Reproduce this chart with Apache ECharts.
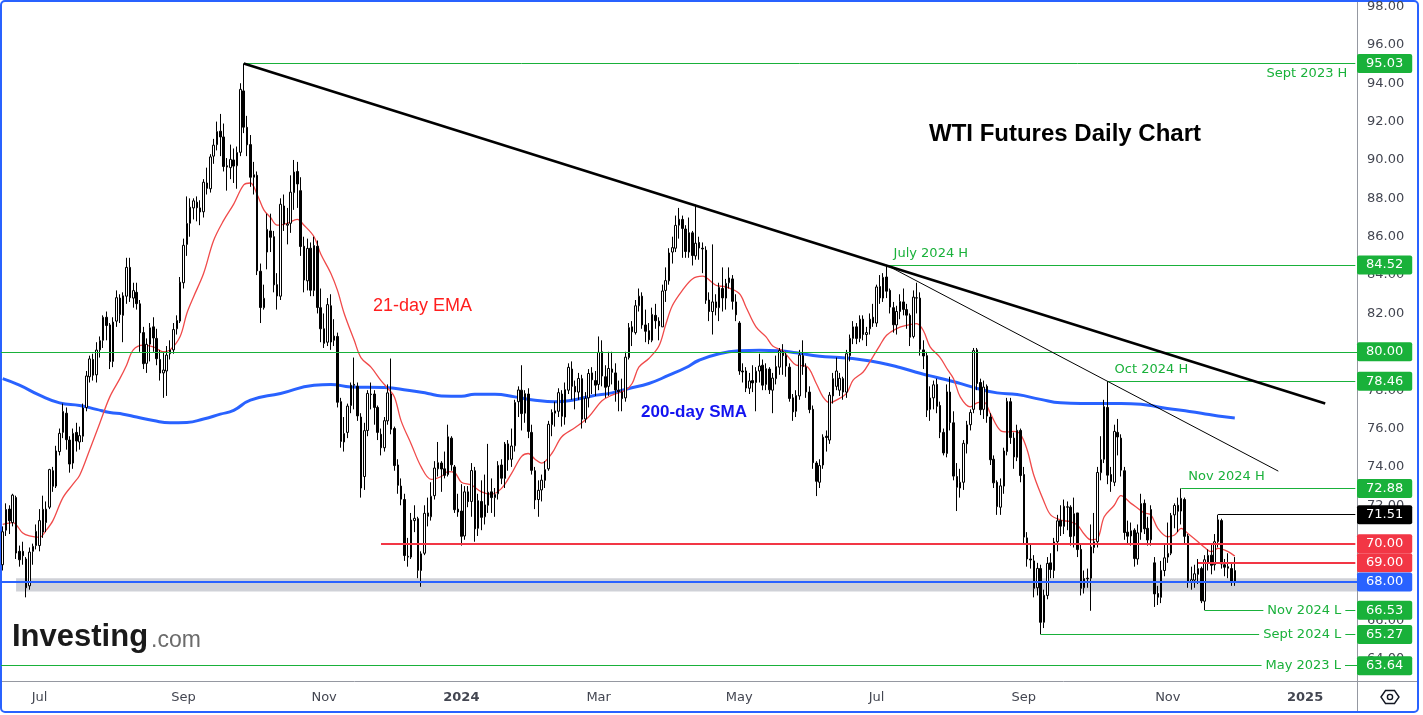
<!DOCTYPE html>
<html><head><meta charset="utf-8">
<script src="https://cdn.jsdelivr.net/npm/echarts@6/dist/echarts.min.js"></script>
<style>html,body{margin:0;padding:0;background:#fff;}#c{width:1423px;height:715px;}</style>
</head><body><div id="c"></div>
<script>
// [date, open, close, low, high]
const jun2023 = [
['2023-06-15',68.9,70.62,68.6,70.9],['2023-06-16',70.7,71.78,70.4,72.1],['2023-06-20',71.8,71.19,70.5,72.0],
['2023-06-21',71.1,72.53,70.9,72.6],['2023-06-22',72.4,69.51,69.2,72.5],['2023-06-23',69.6,69.16,68.8,69.9],
['2023-06-26',69.6,69.37,68.9,70.1],['2023-06-27',69.2,67.70,67.2,69.3],['2023-06-28',67.8,69.56,67.6,69.8],
['2023-06-29',69.6,69.86,68.9,70.0],['2023-06-30',69.9,70.64,69.7,71.0]];
const jul2023 = [
['2023-07-03',69.9,71.20,69.6,71.8],['2023-07-05',70.6,71.79,70.3,72.5],['2023-07-06',71.1,71.80,70.6,72.2],
['2023-07-07',71.9,73.86,71.8,73.9],['2023-07-10',73.8,72.99,72.7,74.0],['2023-07-11',73.0,74.83,72.9,75.1],
['2023-07-12',74.8,75.75,74.6,76.0],['2023-07-13',75.8,76.89,75.5,77.3],['2023-07-14',76.8,75.42,74.9,77.1],
['2023-07-17',75.4,74.15,73.7,75.6],['2023-07-18',74.2,75.75,73.9,76.0],['2023-07-19',75.8,75.35,74.8,76.3],
['2023-07-20',75.3,75.63,74.9,76.1],['2023-07-21',75.6,77.07,75.3,77.3],['2023-07-24',77.1,78.74,76.9,79.0],
['2023-07-25',78.7,79.63,78.4,79.8],['2023-07-26',79.6,78.78,78.5,79.9],['2023-07-27',78.8,80.09,78.4,80.5],
['2023-07-28',80.1,80.58,79.7,80.8],['2023-07-31',80.6,81.80,80.2,81.9]];
const aug2023 = [
['2023-08-01',81.8,81.37,80.6,82.1],['2023-08-02',81.4,79.49,79.1,81.5],['2023-08-03',79.5,81.55,79.2,81.8],
['2023-08-04',81.6,82.82,81.3,83.2],['2023-08-07',82.8,81.94,81.5,83.0],['2023-08-08',81.9,82.92,80.5,83.1],
['2023-08-09',82.9,84.40,82.5,84.9],['2023-08-10',84.4,82.82,82.6,84.9],['2023-08-11',82.8,83.19,82.3,83.6],
['2023-08-14',83.1,82.51,82.2,83.6],['2023-08-15',82.5,80.99,80.0,82.7],['2023-08-16',81.0,79.38,79.1,81.3],
['2023-08-17',79.4,80.39,78.9,80.7],['2023-08-18',80.4,81.25,79.5,81.5],['2023-08-21',81.3,80.72,80.0,81.8],
['2023-08-22',80.7,79.64,79.3,81.2],['2023-08-23',79.6,78.89,78.5,80.1],['2023-08-24',78.9,79.05,77.6,80.0],
['2023-08-25',79.0,79.83,77.7,80.3],['2023-08-28',79.9,80.10,79.6,80.6],['2023-08-29',80.1,81.16,79.9,81.5],
['2023-08-30',81.2,81.63,80.9,81.9],['2023-08-31',81.6,83.63,81.5,83.9]];
const sep2023 = [
['2023-09-01',83.6,85.55,83.3,85.9],['2023-09-05',85.6,86.69,85.0,88.1],['2023-09-06',86.7,87.54,86.0,88.0],
['2023-09-07',87.5,87.87,86.9,88.0],['2023-09-08',87.8,87.51,86.8,88.1],['2023-09-11',87.5,87.29,86.6,87.9],
['2023-09-12',87.3,88.84,87.0,89.0],['2023-09-13',88.8,88.52,88.2,89.6],['2023-09-14',88.5,90.16,88.3,90.3],
['2023-09-15',90.2,90.77,89.8,91.1],['2023-09-18',90.8,91.48,90.5,92.0],['2023-09-19',91.5,91.20,90.2,92.4],
['2023-09-20',91.2,89.66,89.4,91.9],['2023-09-21',89.7,89.63,88.4,90.1],['2023-09-22',89.6,90.03,89.0,90.8],
['2023-09-25',90.0,89.68,88.8,90.6],['2023-09-26',89.7,90.39,88.5,90.7],['2023-09-27',90.4,93.68,90.2,94.0],
['2023-09-28',93.6,91.71,91.4,95.03],['2023-09-29',91.7,90.79,90.2,92.3]];
const oct2023 = [
['2023-10-02',90.8,89.10,88.6,91.3],['2023-10-03',89.1,89.23,88.2,89.9],['2023-10-04',89.2,84.22,84.0,89.4],
['2023-10-05',84.2,82.31,81.5,84.6],['2023-10-06',82.3,82.79,82.2,83.5],['2023-10-09',85.2,86.38,84.3,87.2],
['2023-10-10',86.3,85.97,85.2,87.2],['2023-10-11',86.0,83.49,83.1,86.3],['2023-10-12',83.5,82.91,82.2,84.1],
['2023-10-13',82.9,87.69,82.7,88.0],['2023-10-16',87.6,86.66,86.3,88.2],['2023-10-17',86.6,86.66,85.6,87.5],
['2023-10-18',86.7,88.32,86.2,89.2],['2023-10-19',88.3,89.37,87.4,90.0],['2023-10-20',89.4,88.75,87.5,89.9],
['2023-10-23',88.4,85.49,85.0,89.1],['2023-10-24',85.5,83.74,83.1,86.0],['2023-10-25',83.7,85.39,83.2,85.9],
['2023-10-26',85.4,83.21,82.9,85.7],['2023-10-27',83.2,85.54,82.9,86.0],['2023-10-30',85.5,82.31,82.0,85.8],
['2023-10-31',82.3,81.20,80.5,83.3]];
const nov2023 = [
['2023-11-01',81.2,80.44,80.2,82.0],['2023-11-02',80.5,82.46,80.3,82.8],['2023-11-03',82.4,80.51,80.1,83.0],
['2023-11-06',80.6,80.82,80.3,81.7],['2023-11-07',80.8,77.37,77.1,81.0],['2023-11-08',77.4,75.33,75.0,77.6],
['2023-11-09',75.3,75.74,74.8,76.6],['2023-11-10',75.8,77.17,75.5,77.3],['2023-11-13',77.2,78.26,76.8,78.4],
['2023-11-14',78.3,78.26,77.0,79.7],['2023-11-15',78.2,76.66,76.4,78.4],['2023-11-16',76.6,72.90,72.4,76.8],
['2023-11-17',73.5,75.89,72.8,76.3],['2023-11-20',75.9,77.83,75.6,78.0],['2023-11-21',77.8,77.77,77.0,78.4],
['2023-11-22',77.8,77.10,76.2,78.0],['2023-11-24',77.1,75.80,75.4,77.2],['2023-11-27',75.7,75.00,74.6,76.0],
['2023-11-28',75.0,76.41,74.8,76.6],['2023-11-29',76.4,77.86,76.2,78.3],['2023-11-30',77.8,75.96,75.7,79.65]];
const dec2023 = [
['2023-12-01',76.0,74.07,73.8,76.1],['2023-12-04',74.1,73.04,72.6,74.4],['2023-12-05',73.0,72.32,72.0,73.4],
['2023-12-06',72.3,69.38,69.1,72.6],['2023-12-07',69.3,69.34,68.8,70.3],['2023-12-08',69.3,71.23,69.2,71.6],
['2023-12-11',71.2,71.32,70.6,72.0],['2023-12-12',71.3,68.61,68.2,71.4],['2023-12-13',68.6,69.47,67.75,69.6],
['2023-12-14',69.5,71.58,69.4,72.0],['2023-12-15',71.6,71.43,70.9,72.4],['2023-12-18',71.4,72.47,71.2,73.2],
['2023-12-19',72.5,73.94,72.3,74.3],['2023-12-20',73.9,74.22,73.5,75.3],['2023-12-21',74.2,73.89,72.7,74.3],
['2023-12-22',73.9,73.56,73.4,74.8],['2023-12-26',73.6,75.57,73.5,76.2],['2023-12-27',75.5,74.11,73.8,75.6],
['2023-12-28',74.0,71.77,71.6,74.1],['2023-12-29',71.8,71.65,71.4,72.6]];
const jan2024 = [
['2024-01-02',71.7,70.38,69.9,73.1],['2024-01-03',70.4,72.70,70.2,73.0],['2024-01-04',72.7,72.19,71.9,73.0],
['2024-01-05',72.2,73.81,71.4,74.2],['2024-01-08',73.8,70.77,70.1,74.0],['2024-01-09',70.8,72.24,70.4,72.6],
['2024-01-10',72.2,71.37,70.7,73.3],['2024-01-11',71.4,72.02,71.0,73.6],['2024-01-12',72.0,72.68,71.6,75.2],
['2024-01-16',72.7,72.40,71.6,73.4],['2024-01-17',72.4,72.56,71.4,72.9],['2024-01-18',72.6,74.08,72.3,74.3],
['2024-01-19',74.1,73.41,73.1,74.4],['2024-01-22',73.4,75.19,72.9,75.3],['2024-01-23',75.2,74.37,73.8,75.4],
['2024-01-24',74.4,75.09,74.0,76.0],['2024-01-25',75.1,77.36,74.8,77.5],['2024-01-26',77.4,78.01,76.6,78.2],
['2024-01-29',78.0,76.78,75.9,79.3],['2024-01-30',76.8,77.82,76.3,78.0],['2024-01-31',77.8,75.85,75.5,78.1]];
const feb2024 = [
['2024-02-01',75.8,73.82,73.6,76.2],['2024-02-02',73.8,72.28,71.8,74.0],['2024-02-05',72.3,72.78,71.4,73.3],
['2024-02-06',72.8,73.31,72.2,73.6],['2024-02-07',73.3,73.86,72.9,74.3],['2024-02-08',73.9,76.22,73.8,76.4],
['2024-02-09',76.2,76.84,75.6,77.0],['2024-02-12',76.8,76.92,76.1,77.4],['2024-02-13',76.9,77.87,76.6,78.1],
['2024-02-14',77.8,76.64,76.1,78.0],['2024-02-15',76.6,78.03,76.2,78.4],['2024-02-16',78.0,79.19,77.8,79.4],
['2024-02-20',79.1,78.20,77.5,79.5],['2024-02-21',78.2,77.91,77.0,78.5],['2024-02-22',77.9,78.61,77.5,78.9],
['2024-02-23',78.6,76.49,76.0,78.8],['2024-02-26',76.5,77.58,76.3,77.9],['2024-02-27',77.6,78.87,77.1,79.1],
['2024-02-28',78.9,78.54,77.8,79.2],['2024-02-29',78.5,78.26,77.7,79.0]];
const mar2024 = [
['2024-03-01',78.3,79.97,78.0,80.8],['2024-03-04',80.0,78.74,78.2,80.6],['2024-03-05',78.7,78.15,77.6,79.3],
['2024-03-06',78.2,79.13,77.7,80.0],['2024-03-07',79.1,78.93,78.3,80.0],['2024-03-08',78.9,78.01,77.4,79.4],
['2024-03-11',78.0,77.93,76.9,78.5],['2024-03-12',77.9,77.56,76.9,78.6],['2024-03-13',77.6,79.72,77.4,80.0],
['2024-03-14',79.7,81.26,79.6,81.5],['2024-03-15',81.3,81.04,80.3,81.6],['2024-03-18',81.0,82.40,80.9,82.7],
['2024-03-19',82.4,82.90,82.1,83.3],['2024-03-20',82.9,81.40,81.2,83.1],['2024-03-21',81.4,81.07,80.5,82.2],
['2024-03-22',81.1,80.63,80.4,81.5],['2024-03-25',80.6,81.95,80.5,82.3],['2024-03-26',81.9,81.62,81.2,82.5],
['2024-03-27',81.6,81.35,80.6,81.8],['2024-03-28',81.3,83.17,81.3,83.5]];
const apr2024 = [
['2024-04-01',83.2,83.71,82.6,84.4],['2024-04-02',83.7,85.15,83.5,85.4],['2024-04-03',85.2,85.43,84.6,86.0],
['2024-04-04',85.4,86.59,85.2,87.1],['2024-04-05',86.6,86.91,85.9,87.5],['2024-04-08',86.9,86.43,84.9,87.1],
['2024-04-09',86.4,85.23,84.9,86.6],['2024-04-10',85.2,86.21,84.9,87.0],['2024-04-11',86.2,85.02,84.5,86.3],
['2024-04-12',85.0,85.66,84.8,87.67],['2024-04-15',85.7,85.41,84.8,86.0],['2024-04-16',85.4,85.36,84.1,85.7],
['2024-04-17',85.3,82.69,82.5,85.5],['2024-04-18',82.7,82.10,81.6,83.1],['2024-04-19',82.1,82.60,80.9,85.6],
['2024-04-22',82.6,82.30,81.9,83.0],['2024-04-23',82.3,83.36,81.6,83.6],['2024-04-24',83.3,82.81,82.1,84.4],
['2024-04-25',82.8,83.57,82.2,83.8],['2024-04-26',83.6,83.85,83.3,84.4],['2024-04-29',83.8,82.63,82.2,84.0],
['2024-04-30',82.6,81.93,81.6,83.0]];
const may2024 = [
['2024-05-01',81.5,79.00,78.8,81.6],['2024-05-02',79.0,78.95,78.4,79.4],['2024-05-03',79.0,78.11,77.9,79.2],
['2024-05-06',78.1,78.48,77.8,78.9],['2024-05-07',78.5,78.38,77.9,79.3],['2024-05-08',78.4,78.99,76.9,79.2],
['2024-05-09',79.0,79.26,78.4,79.9],['2024-05-10',79.3,78.26,78.0,79.6],['2024-05-13',78.3,79.12,78.0,79.4],
['2024-05-14',79.1,78.02,77.8,79.2],['2024-05-15',78.0,78.63,76.8,78.9],['2024-05-16',78.6,79.23,78.3,79.8],
['2024-05-17',79.2,80.06,78.8,80.2],['2024-05-20',80.0,79.80,78.8,80.4],['2024-05-21',79.8,79.26,78.7,80.0],
['2024-05-22',79.2,77.57,77.4,79.4],['2024-05-23',77.6,76.87,76.4,77.8],['2024-05-24',76.9,77.72,76.6,78.0],
['2024-05-28',77.7,79.83,77.5,80.1],['2024-05-29',79.8,79.23,78.8,80.6],['2024-05-30',79.2,77.91,77.6,79.4],
['2024-05-31',77.9,76.99,76.8,78.2]];
const jun2024 = [
['2024-06-03',77.0,74.22,73.9,77.2],['2024-06-04',74.2,73.25,72.48,74.3],['2024-06-05',73.2,74.07,72.9,74.4],
['2024-06-06',74.1,75.55,73.9,75.7],['2024-06-07',75.6,75.53,74.8,75.9],['2024-06-10',75.4,77.74,75.2,77.9],
['2024-06-11',77.7,78.60,77.3,78.9],['2024-06-12',78.2,79.00,78.0,79.7],['2024-06-13',78.0,78.62,77.7,78.9],
['2024-06-14',78.6,77.90,77.5,78.7],['2024-06-17',77.9,79.90,77.6,80.1],['2024-06-18',79.8,80.70,79.5,80.9],
['2024-06-20',80.7,81.30,80.4,81.6],['2024-06-21',81.3,80.70,80.4,81.5],['2024-06-24',80.7,81.70,80.5,81.9],
['2024-06-25',81.7,80.90,80.6,81.9],['2024-06-26',80.9,81.00,80.3,81.3],['2024-06-27',81.2,81.70,80.9,82.0],
['2024-06-28',81.8,81.50,81.3,82.5]];
const jul2024 = [
['2024-07-01',81.5,83.38,81.3,83.5],['2024-07-02',83.4,82.81,82.5,84.0],['2024-07-03',82.8,83.88,82.6,84.1],
['2024-07-05',83.9,83.16,82.8,84.52],['2024-07-08',83.2,82.33,82.0,83.3],['2024-07-09',82.3,81.41,81.0,82.6],
['2024-07-10',81.4,82.10,80.9,82.4],['2024-07-11',82.1,82.62,81.7,83.0],['2024-07-12',82.6,82.21,81.9,83.3],
['2024-07-15',82.2,81.91,81.2,82.5],['2024-07-16',81.9,80.76,80.3,82.0],['2024-07-17',80.8,82.85,80.7,83.2],
['2024-07-18',82.8,82.82,82.0,83.6],['2024-07-19',82.8,80.13,79.8,83.1],['2024-07-22',80.1,79.78,79.1,80.6],
['2024-07-23',79.8,76.96,76.6,80.0],['2024-07-24',77.0,77.59,76.4,78.2],['2024-07-25',77.6,78.28,77.0,78.5],
['2024-07-26',78.3,77.16,76.8,78.6],['2024-07-29',77.2,75.81,75.5,77.4],['2024-07-30',75.8,74.73,74.6,76.0],
['2024-07-31',74.7,77.91,74.5,78.3]];
const aug2024 = [
['2024-08-01',77.9,76.31,75.9,78.7],['2024-08-02',76.3,73.52,73.3,76.9],['2024-08-05',73.5,72.94,71.7,74.2],
['2024-08-06',72.9,73.20,72.4,73.9],['2024-08-07',73.2,75.23,72.8,75.4],['2024-08-08',75.2,76.19,74.7,76.4],
['2024-08-09',76.2,76.84,75.9,77.0],['2024-08-12',77.0,80.06,76.8,80.2],['2024-08-13',80.1,78.35,78.0,80.2],
['2024-08-14',78.4,76.98,76.7,78.6],['2024-08-15',77.0,78.16,76.5,78.5],['2024-08-16',78.2,76.65,76.3,78.3],
['2024-08-19',76.6,74.37,74.1,76.8],['2024-08-20',74.4,73.17,72.9,74.6],['2024-08-21',73.2,71.93,71.5,73.3],
['2024-08-22',71.9,73.01,71.5,73.4],['2024-08-23',73.0,74.83,72.6,75.0],['2024-08-26',74.8,77.42,74.6,77.6],
['2024-08-27',77.4,75.53,75.2,77.6],['2024-08-28',75.5,74.52,73.9,75.8],['2024-08-29',74.5,75.91,74.3,76.2],
['2024-08-30',75.9,73.55,73.2,76.0]];
const sep2024 = [
['2024-09-03',73.6,70.34,70.0,74.0],['2024-09-04',70.3,69.20,68.8,70.6],['2024-09-05',69.2,69.15,68.7,70.0],
['2024-09-06',69.1,67.67,67.2,69.4],['2024-09-09',67.7,68.71,67.3,69.0],['2024-09-10',68.7,65.90,65.27,68.9],
['2024-09-11',65.9,67.31,65.6,67.6],['2024-09-12',67.3,68.97,67.1,69.3],['2024-09-13',69.0,68.65,68.2,69.5],
['2024-09-16',68.6,70.09,68.2,70.3],['2024-09-17',70.1,71.19,69.6,71.5],['2024-09-18',71.2,70.91,70.4,72.0],
['2024-09-19',70.9,71.95,70.5,72.3],['2024-09-20',71.9,71.92,70.7,72.2],['2024-09-23',71.9,70.37,69.9,72.0],
['2024-09-24',70.4,71.56,69.8,72.4],['2024-09-25',71.6,69.69,69.3,71.6],['2024-09-26',69.7,67.67,67.3,70.0],
['2024-09-27',67.7,68.18,67.4,68.6],['2024-09-30',68.2,68.17,67.7,68.7]];
const oct2024 = [
['2024-10-01',68.2,69.83,66.5,71.0],['2024-10-02',69.8,70.10,69.5,71.6],['2024-10-03',70.1,73.71,69.8,74.0],
['2024-10-04',73.7,74.38,73.3,75.6],['2024-10-07',74.4,77.14,74.2,77.5],['2024-10-08',77.1,73.57,73.1,78.46],
['2024-10-09',73.6,73.24,72.7,74.0],['2024-10-10',73.2,75.85,73.0,76.2],['2024-10-11',75.8,75.56,74.6,76.5],
['2024-10-14',75.5,73.83,73.5,75.7],['2024-10-15',73.8,70.58,70.2,74.0],['2024-10-16',70.6,70.39,70.0,71.2],
['2024-10-17',70.4,70.67,69.9,71.1],['2024-10-18',70.7,69.22,68.8,70.8],['2024-10-21',69.2,70.56,68.9,71.0],
['2024-10-22',70.6,72.09,70.2,72.6],['2024-10-23',72.1,70.77,70.5,72.3],['2024-10-24',70.8,70.19,69.9,71.4],
['2024-10-25',70.2,71.78,69.9,72.0],['2024-10-28',69.0,67.38,66.7,69.3],['2024-10-29',67.4,67.21,66.8,67.8],
['2024-10-30',67.2,68.61,66.9,69.1],['2024-10-31',68.6,69.26,68.3,70.0]];
const nov2024 = [
['2024-11-01',69.3,69.49,69.0,71.1],['2024-11-04',69.5,71.47,69.4,71.6],['2024-11-05',71.5,71.99,70.8,72.1],
['2024-11-06',72.0,71.69,70.6,72.4],['2024-11-07',71.7,72.36,71.0,72.88],['2024-11-08',72.3,70.38,70.0,72.4],
['2024-11-11',70.4,68.04,67.7,70.5],['2024-11-12',68.0,68.12,67.6,68.8],['2024-11-13',68.1,68.43,67.7,68.9],
['2024-11-14',68.4,68.70,67.9,69.2],['2024-11-15',68.7,67.02,66.9,68.8],['2024-11-18',67.0,69.16,66.53,69.4],
['2024-11-19',69.0,69.39,68.6,69.7],['2024-11-20',69.4,68.87,68.4,70.0],['2024-11-21',68.9,70.10,68.6,70.5],
['2024-11-22',70.1,71.24,69.8,71.51],['2024-11-25',71.2,68.94,68.7,71.3],['2024-11-26',68.9,68.77,68.3,69.2],
['2024-11-27',68.8,68.72,68.2,69.5],['2024-11-29',68.7,68.00,67.8,69.0]];
const dec2024 = [['2024-12-02',68.0,68.60,67.8,69.3]];

// empty future sessions to the right edge of the price pane
const futureDates = ['2024-12-03','2024-12-04','2024-12-05','2024-12-06','2024-12-09','2024-12-10','2024-12-11','2024-12-12',
'2024-12-13','2024-12-16','2024-12-17','2024-12-18','2024-12-19','2024-12-20','2024-12-23','2024-12-24','2024-12-26',
'2024-12-27','2024-12-30','2024-12-31','2025-01-02','2025-01-03','2025-01-06','2025-01-07','2025-01-08','2025-01-09',
'2025-01-10','2025-01-13','2025-01-14','2025-01-15','2025-01-16','2025-01-17','2025-01-21','2025-01-22','2025-01-23','2025-01-24'];

const tickDates = ['2023-07-03','2023-09-01','2023-11-01','2024-01-02','2024-03-01','2024-05-01','2024-07-01','2024-09-03','2024-11-01','2025-01-02'];
const tickTexts = ['Jul','Sep','Nov','2024','Mar','May','Jul','Sep','Nov','2025'];
const priceTicks = [64,66,68,70,72,74,76,78,80,82,84,86,88,90,92,94,96,98];

// [session index, value]
const ema21Points = [[0,71.0],[3,71.1],[6,70.55],[8,70.4],[11,70.33],[13,70.7],[15,71.2],[18,72.4],[21,73.1],[23,73.57],[26,74.9],[29,76.28],[32,77.65],[35,78.6],[37,79.3],[39,80.1],[42,80.35],[45,80.26],[48,80.0],[50,80.1],[53,80.8],[55,82.0],[57,82.86],[60,84.08],[63,85.8],[66,86.85],[69,87.7],[72,88.7],[74,88.8],[76,88.2],[78,87.4],[80,87.0],[82,86.6],[85,86.7],[88,86.9],[90,86.6],[93,86.0],[95,85.1],[98,84.1],[100,83.2],[102,82.0],[105,80.6],[107,79.7],[110,79.2],[113,78.5],[115,78.1],[117,77.65],[119,76.4],[122,75.2],[125,74.0],[128,73.35],[131,73.5],[133,73.75],[135,73.7],[137,73.2],[140,73.05],[143,72.7],[146,72.58],[149,72.88],[152,73.66],[155,74.55],[157,74.7],[159,74.4],[161,74.2],[164,74.7],[167,75.57],[171,76.05],[175,76.6],[179,77.45],[182,77.74],[186,78.0],[188,78.35],[190,79.2],[193,79.65],[196,80.3],[198,81.4],[200,82.4],[203,83.2],[206,83.8],[209,83.94],[213,83.47],[216,83.38],[220,83.04],[222,82.34],[225,81.3],[228,80.78],[230,80.3],[233,80.05],[235,79.65],[237,79.3],[240,79.25],[243,78.35],[245,77.65],[247,77.34],[249,77.48],[252,77.83],[254,78.52],[257,78.95],[259,79.48],[262,80.34],[264,80.86],[267,81.21],[270,81.38],[273,81.47],[275,81.1],[277,80.26],[280,79.7],[282,79.13],[284,78.6],[286,77.65],[289,77.13],[291,77.34],[293,77.39],[295,76.78],[298,75.9],[300,75.83],[302,75.85],[304,75.7],[306,74.88],[308,73.55],[311,72.2],[313,71.5],[316,71.23],[319,71.14],[321,70.97],[323,70.5],[325,70.2],[327,70.27],[329,71.4],[332,72.0],[334,72.5],[337,72.1],[339,71.85],[341,71.6],[343,71.49],[345,70.8],[348,70.36],[350,70.45],[352,70.8],[354,70.53],[357,70.1],[359,69.8],[361,69.58],[363,69.75],[366,69.58],[368,69.35]];
const sma200Points = [[0,78.6],[5,78.26],[11,77.74],[17,77.34],[23,77.2],[28,77.0],[32,76.84],[36,76.75],[40,76.6],[45,76.42],[50,76.3],[55,76.32],[60,76.5],[65,76.75],[69,76.95],[74,77.48],[83,77.83],[93,78.26],[98,78.3],[104,78.17],[114,78.14],[121,78.0],[127,77.83],[131,77.7],[137,77.68],[141,77.79],[147,77.79],[153,77.65],[159,77.48],[165,77.4],[170,77.48],[176,77.7],[182,77.86],[187,78.09],[193,78.35],[199,78.78],[204,79.17],[208,79.56],[214,79.9],[220,80.05],[226,80.08],[232,80.05],[237,79.95],[244,79.77],[250,79.7],[256,79.6],[262,79.43],[268,79.18],[274,78.88],[279,78.66],[285,78.4],[291,78.09],[297,77.86],[303,77.77],[310,77.52],[316,77.34],[322,77.31],[334,77.31],[340,77.27],[346,77.1],[352,76.95],[358,76.8],[363,76.65],[368,76.55]];

const trendMain = [['2023-09-28',95.03],['2025-01-10',77.30]];
const trendMinor = [['2024-07-05',84.52],['2024-12-19',73.78]];

const levelValues = [95.03,84.52,80.00,78.46,72.88,71.51,70.00,69.00,68.00,66.53,65.27,63.64];
const levelStarts = ['2023-09-28','2024-07-05',null,'2024-10-08','2024-11-07','2024-11-22','2023-11-27','2024-11-14',null,'2024-11-18','2024-09-10',null];
const levelNotes = ['Sept 2023 H','July 2024 H','','Oct 2024 H','Nov 2024 H','','','','','Nov 2024 L','Sept 2024 L','May 2023 L'];
const supportBand = [67.5, 68.2];
const supportBandStart = '2023-06-22';

// ---------- build ----------
const ohlcRows = [].concat(jun2023,jul2023,aug2023,sep2023,oct2023,nov2023,dec2023,jan2024,feb2024,mar2024,apr2024,may2024,jun2024,jul2024,aug2024,sep2024,oct2024,nov2024,dec2024);
const categories = ohlcRows.map(r => r[0]).concat(futureDates);
const candles = ohlcRows.map(r => [r[1], r[2], r[3], r[4]]);
const lastCat = categories[categories.length - 1];
const tickMap = {}; tickDates.forEach((d, i) => tickMap[d] = tickTexts[i]);

const GREEN = '#19b13a', RED = '#f23645', BLUE = '#2962ff', BLACK = '#000000';
const FONT = 'DejaVu Sans';
const levelColors = [GREEN,GREEN,GREEN,GREEN,GREEN,BLACK,RED,RED,BLUE,GREEN,GREEN,GREEN];
const levelWidths = [1,1,1,1,1,1,2,2,2,1,1,1];
const notePlacement = {0:['insideEndBottom',[8,4]],1:['insideStartTop',[7,5]],3:['insideStartTop',[7,5]],4:['insideStartTop',[7,5]],9:['insideEnd',[10,0]],10:['insideEnd',[10,0]],11:['insideEnd',[12,0]]};

const markLineData = [];
levelValues.forEach((v, i) => {
  const ls = {color: levelColors[i], width: levelWidths[i], type: 'solid', opacity: 1};
  const np = notePlacement[i];
  const lbl = np ? {show: true, position: np[0], distance: np[1], formatter: levelNotes[i], color: levelColors[i],
      fontFamily: FONT, fontSize: 13, backgroundColor: np[0] === 'insideEnd' ? '#ffffff' : 'transparent',
      padding: np[0] === 'insideEnd' ? [1,4] : 0} : {show: false};
  if (levelStarts[i]) {
    markLineData.push([{coord: [levelStarts[i], v], lineStyle: ls, label: lbl}, {coord: [lastCat, v]}]);
  } else {
    markLineData.push({yAxis: v, lineStyle: ls, label: lbl});
  }
});
// price badges on the axis (carried by stroke-less full-width lines)
levelValues.forEach((v, i) => {
  markLineData.push({yAxis: v, lineStyle: {width: 0, color: 'rgba(0,0,0,0)', opacity: 1}, label: {show: true, position: 'end', distance: 0,
    formatter: v.toFixed(2), color: '#ffffff', backgroundColor: levelColors[i], padding: [3,9,2,9], borderRadius: 2,
    fontFamily: FONT, fontSize: 13, lineHeight: 14}});
});

const chart = echarts.init(document.getElementById('c'), null, {renderer: 'canvas'});
chart.setOption({
  animation: false,
  backgroundColor: '#ffffff',
  grid: {left: 1, right: 66, top: 0, bottom: 34, containLabel: false},
  xAxis: {
    type: 'category', data: categories, boundaryGap: true,
    axisLine: {show: false}, axisTick: {show: false}, splitLine: {show: false},
    axisLabel: {
      interval: (idx, val) => tickMap[val] !== undefined,
      formatter: val => { const t = tickMap[val] || ''; return /^\d{4}$/.test(t) ? '{y|' + t + '}' : t; },
      margin: 10, color: '#434651', fontFamily: FONT, fontSize: 13,
      rich: {y: {fontWeight: 'bold', color: '#434651', fontFamily: FONT, fontSize: 13}}
    }
  },
  yAxis: {
    type: 'value', position: 'right', min: 62.84, max: 98.3125,
    axisLine: {show: false}, axisTick: {show: false}, splitLine: {show: false},
    axisLabel: {customValues: priceTicks, formatter: v => v.toFixed(2), color: '#434651', fontFamily: FONT, fontSize: 13, margin: 10}
  },
  graphic: [
    {type: 'line', silent: true, shape: {x1: 0, y1: 681.5, x2: 1418, y2: 681.5}, style: {stroke: '#9598a1', lineWidth: 1}},
    {type: 'line', silent: true, shape: {x1: 1357.5, y1: 0, x2: 1357.5, y2: 712}, style: {stroke: '#9598a1', lineWidth: 1}},
    {type: 'rect', silent: true, shape: {x: 1, y: 1, width: 1417, height: 711, r: 4}, style: {fill: 'none', stroke: '#2962ff', lineWidth: 2}},
    {type: 'polygon', silent: true, shape: {points: [[1381,697],[1385.5,690.5],[1394.5,690.5],[1399,697],[1394.5,703.5],[1385.5,703.5]]}, style: {fill: 'none', stroke: '#131722', lineWidth: 1.4}},
    {type: 'circle', silent: true, shape: {cx: 1390, cy: 697, r: 2.6}, style: {fill: 'none', stroke: '#131722', lineWidth: 1.4}},
    {type: 'text', silent: true, x: 1065, y: 134, style: {text: 'WTI Futures Daily Chart', font: 'bold 24px "Liberation Sans"', fill: '#000000', align: 'center', verticalAlign: 'middle', textAlign: 'center', textVerticalAlign: 'middle'}},
    {type: 'text', silent: true, x: 373, y: 306, style: {text: '21-day EMA', font: '18px "Liberation Sans"', fill: '#ff1e1e', align: 'left', verticalAlign: 'middle', textAlign: 'left', textVerticalAlign: 'middle'}},
    {type: 'text', silent: true, x: 694, y: 412, style: {text: '200-day SMA', font: 'bold 17px "Liberation Sans"', fill: '#1414f0', align: 'center', verticalAlign: 'middle', textAlign: 'center', textVerticalAlign: 'middle'}},
    {type: 'text', silent: true, x: 12, y: 653, style: {text: 'Investing', font: 'bold 31px "Liberation Sans"', fill: '#1a1a1a', align: 'left', verticalAlign: 'bottom', textAlign: 'left', textVerticalAlign: 'bottom'}},
    {type: 'text', silent: true, x: 151, y: 652, style: {text: '.com', font: '23px "Liberation Sans"', fill: '#6b6b6b', align: 'left', verticalAlign: 'bottom', textAlign: 'left', textVerticalAlign: 'bottom'}}
  ],
  series: [
    {type: 'line', name: 'band', data: [], z: 1, silent: true, clip: false,
      markArea: {silent: true, itemStyle: {color: 'rgba(160,164,175,0.5)'},
        data: [[{xAxis: supportBandStart, yAxis: supportBand[0]}, {yAxis: supportBand[1]}]]}},
    {type: 'line', name: '200-day SMA', data: sma200Points.map(p => [categories[p[0]], p[1]]), z: 2, silent: true,
      showSymbol: false, symbol: 'none', smooth: 0.5, lineStyle: {color: '#2962ff', width: 3}},
    {type: 'line', name: '21-day EMA', data: ema21Points.map(p => [categories[p[0]], p[1]]), z: 2, silent: true,
      showSymbol: false, symbol: 'none', smooth: 0.35, lineStyle: {color: '#f04a4a', width: 1.3}},
    {type: 'candlestick', name: 'WTI', data: candles, z: 3, barWidth: 2, large: false, silent: true,
      itemStyle: {color: '#ffffff', color0: '#000000', borderColor: '#000000', borderColor0: '#000000', borderWidth: 1}},
    {type: 'line', name: 'levels', data: [], z: 4, silent: true, clip: false,
      markLine: {silent: true, symbol: ['none','none'], animation: false, data: markLineData}},
    {type: 'line', name: 'trend1', data: trendMain, z: 5, silent: true, showSymbol: false, symbol: 'none',
      lineStyle: {color: '#000000', width: 2.6}},
    {type: 'line', name: 'trend2', data: trendMinor, z: 5, silent: true, showSymbol: false, symbol: 'none',
      lineStyle: {color: '#000000', width: 1}}
  ]
});
</script></body></html>
